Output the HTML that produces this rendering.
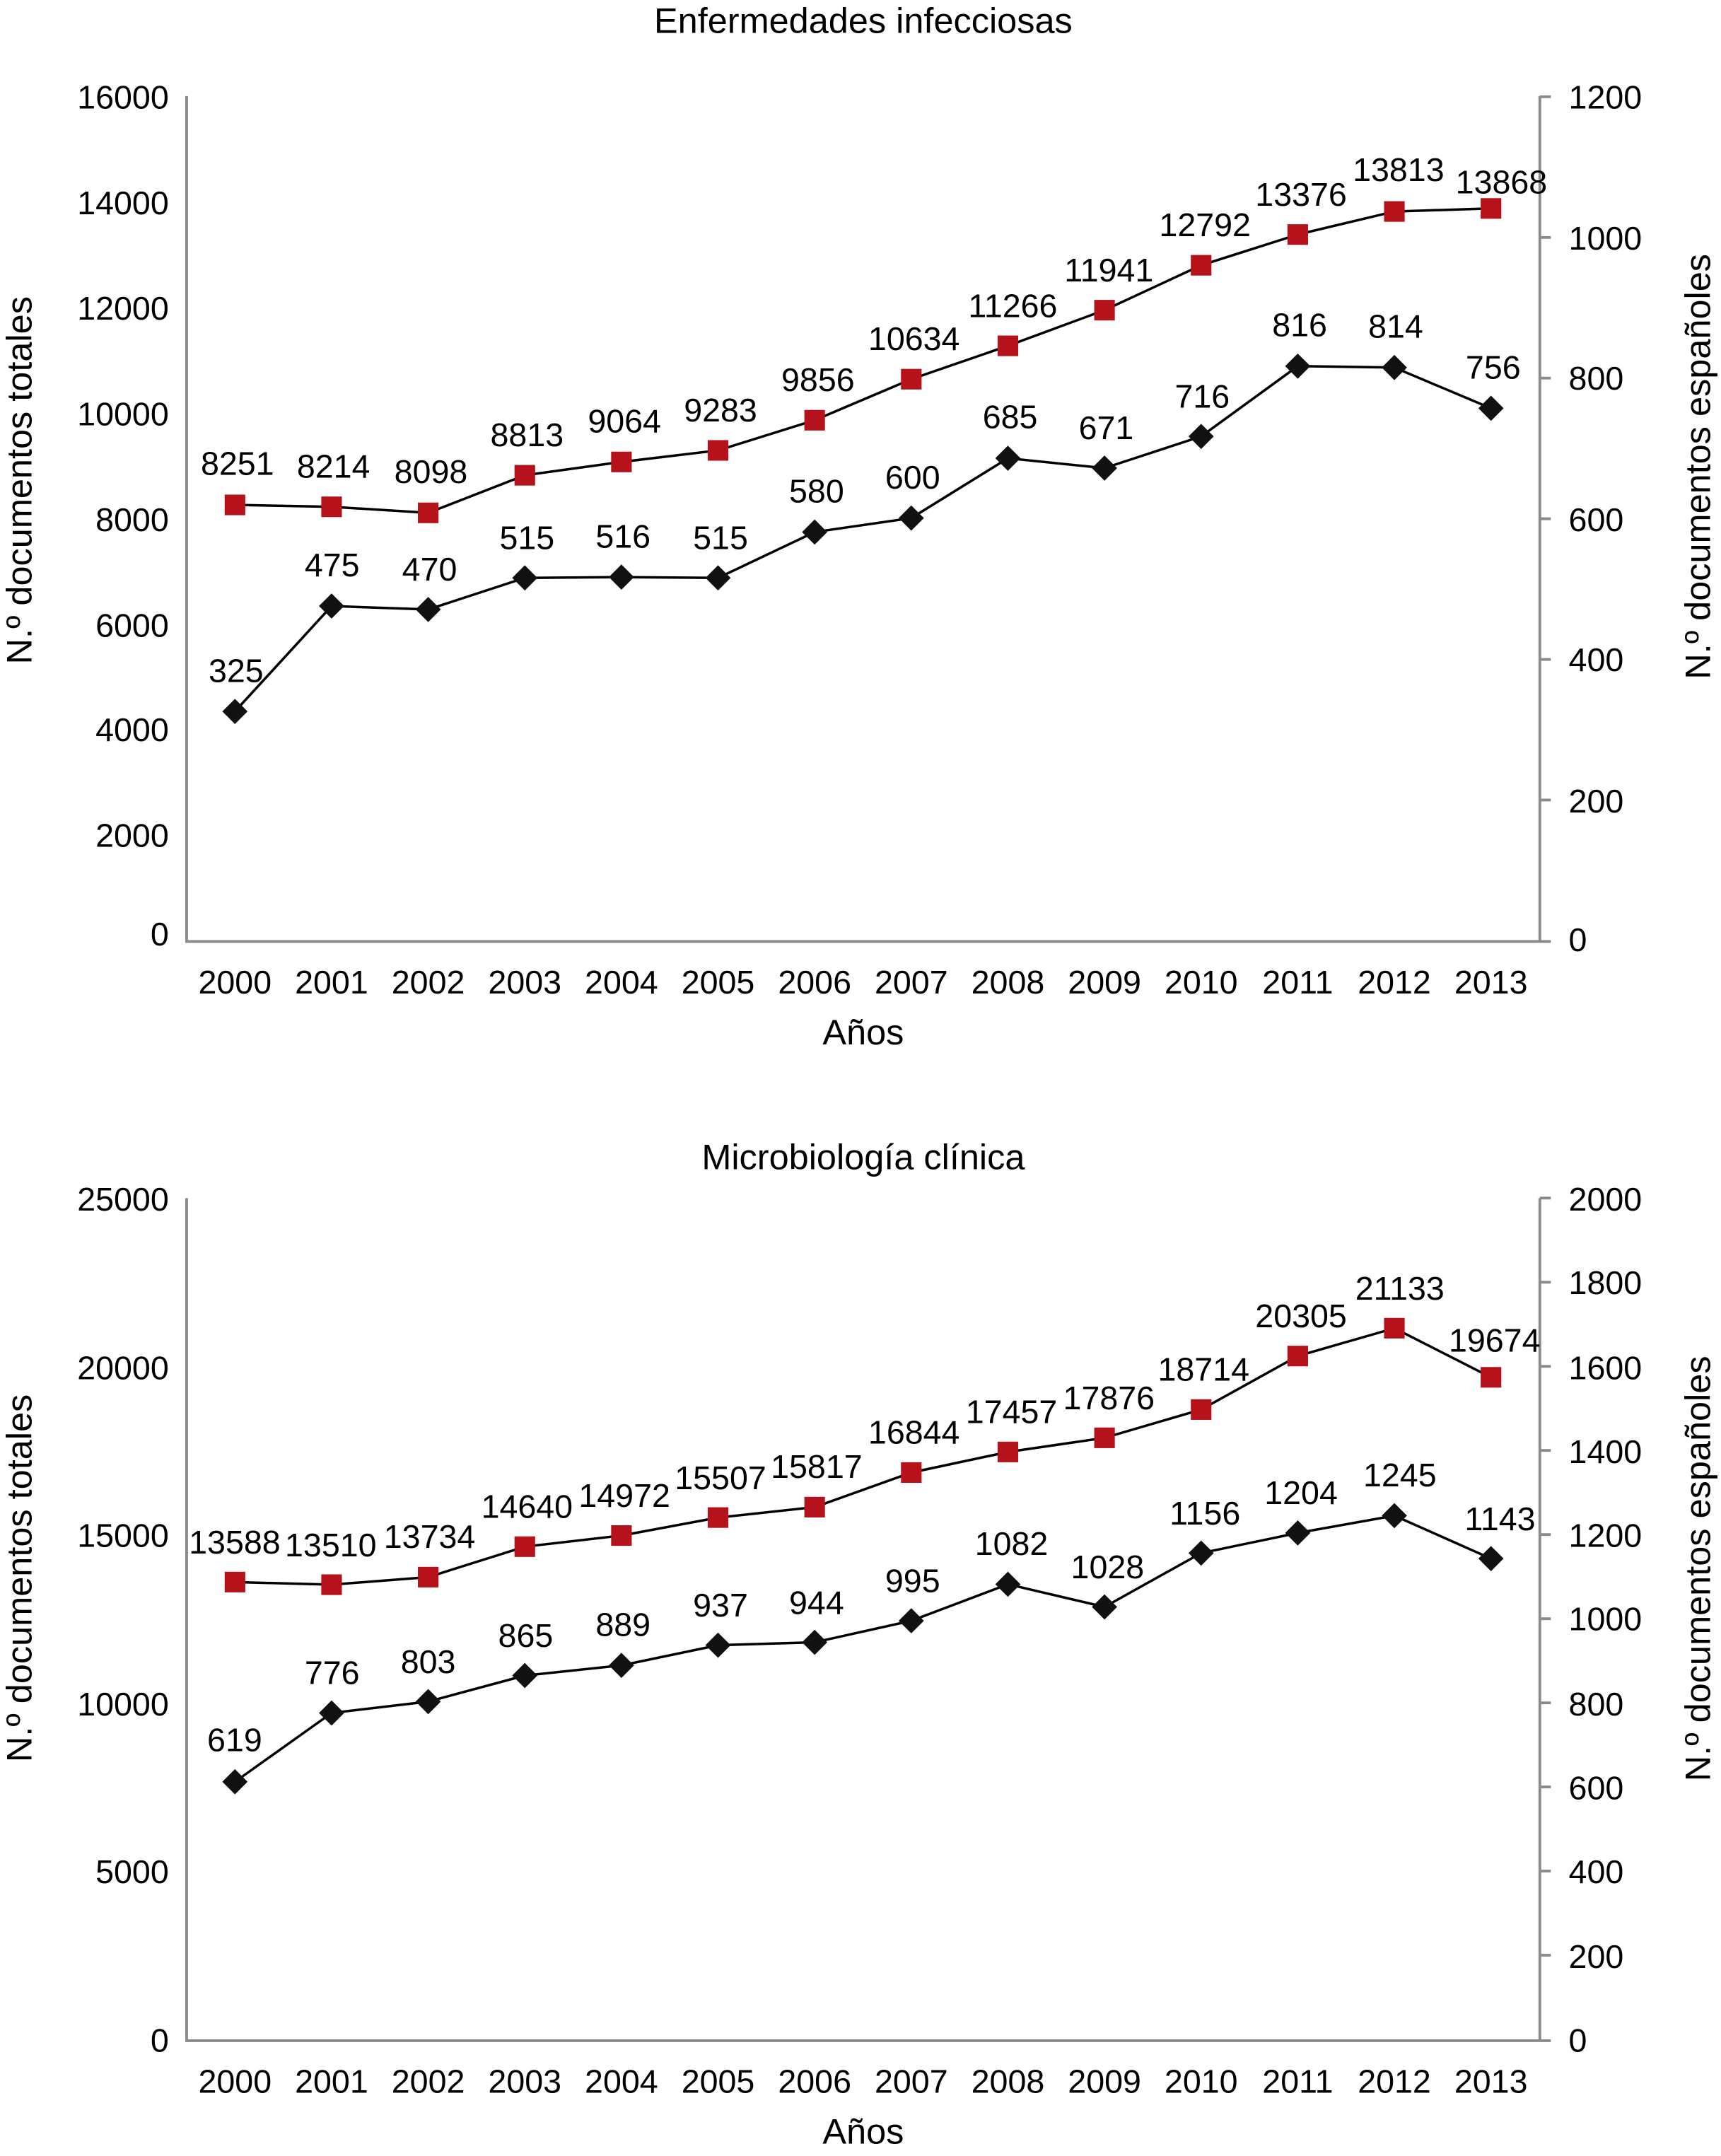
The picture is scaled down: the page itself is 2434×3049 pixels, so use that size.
<!DOCTYPE html>
<html><head><meta charset="utf-8"><style>
html,body{margin:0;padding:0;background:#fff}
svg{display:block}
text{font-family:"Liberation Sans",Arial,sans-serif;fill:#000}
</style></head><body>
<svg width="2434" height="3049" viewBox="0 0 1254 1571" preserveAspectRatio="none" xmlns="http://www.w3.org/2000/svg">
<defs>
<rect id="sq" x="-7.5" y="-7.5" width="15" height="15" fill="#b5121b"/>
<rect id="dm" x="-6.5" y="-6.5" width="13" height="13" fill="#111" transform="rotate(45)"/>
</defs>
<g font-size="24">
<!-- ===== TOP CHART ===== -->
<text x="629" y="24" text-anchor="middle" font-size="26">Enfermedades infecciosas</text>
<g stroke="#8a8a8a" stroke-width="2" fill="none">
<path d="M136 70 V686 H1130"/>
<path d="M1122 70 V686"/>
<path d="M1122 70.5h8M1122 173h8M1122 275.5h8M1122 378h8M1122 480.5h8M1122 583h8"/>
</g>
<g text-anchor="end">
<text x="123" y="79">16000</text><text x="123" y="156">14000</text><text x="123" y="233">12000</text><text x="123" y="310">10000</text><text x="123" y="387">8000</text><text x="123" y="464">6000</text><text x="123" y="540">4000</text><text x="123" y="617">2000</text><text x="123" y="689">0</text>
</g>
<g>
<text x="1143" y="79">1200</text><text x="1143" y="182">1000</text><text x="1143" y="284">800</text><text x="1143" y="387">600</text><text x="1143" y="489">400</text><text x="1143" y="592">200</text><text x="1143" y="693">0</text>
</g>
<g text-anchor="middle">
<text x="171.2" y="724">2000</text><text x="241.6" y="724">2001</text><text x="312" y="724">2002</text><text x="382.4" y="724">2003</text><text x="452.8" y="724">2004</text><text x="523.2" y="724">2005</text><text x="593.6" y="724">2006</text><text x="664" y="724">2007</text><text x="734.4" y="724">2008</text><text x="804.8" y="724">2009</text><text x="875.2" y="724">2010</text><text x="945.6" y="724">2011</text><text x="1016" y="724">2012</text><text x="1086.4" y="724">2013</text>
<text x="629" y="761" font-size="26">Años</text>
</g>
<text transform="translate(23,350) rotate(-90)" text-anchor="middle" font-size="26">N.º documentos totales</text>
<text transform="translate(1246,340) rotate(-90)" text-anchor="middle" font-size="26">N.º documentos españoles</text>
<polyline fill="none" stroke="#000" stroke-width="1.8" points="171.2,367.9 241.6,369.3 312,373.7 382.4,346.3 452.8,336.6 523.2,328.2 593.6,306.2 664,276.3 734.4,252 804.8,226 875.2,193.3 945.6,170.9 1016,154.1 1086.4,151.9"/>
<polyline fill="none" stroke="#000" stroke-width="1.8" points="171.2,518.4 241.6,441.6 312,444.1 382.4,421.1 452.8,420.5 523.2,421.1 593.6,387.7 664,377.5 734.4,333.9 804.8,341.1 875.2,318 945.6,266.8 1016,267.8 1086.4,297.5"/>
<g>
<use href="#sq" x="171.2" y="367.9"/><use href="#sq" x="241.6" y="369.3"/><use href="#sq" x="312" y="373.7"/><use href="#sq" x="382.4" y="346.3"/><use href="#sq" x="452.8" y="336.6"/><use href="#sq" x="523.2" y="328.2"/><use href="#sq" x="593.6" y="306.2"/><use href="#sq" x="664" y="276.3"/><use href="#sq" x="734.4" y="252"/><use href="#sq" x="804.8" y="226"/><use href="#sq" x="875.2" y="193.3"/><use href="#sq" x="945.6" y="170.9"/><use href="#sq" x="1016" y="154.1"/><use href="#sq" x="1086.4" y="151.9"/>
<g transform="translate(171.2,518.4)"><use href="#dm"/></g><g transform="translate(241.6,441.6)"><use href="#dm"/></g><g transform="translate(312,444.1)"><use href="#dm"/></g><g transform="translate(382.4,421.1)"><use href="#dm"/></g><g transform="translate(452.8,420.5)"><use href="#dm"/></g><g transform="translate(523.2,421.1)"><use href="#dm"/></g><g transform="translate(593.6,387.7)"><use href="#dm"/></g><g transform="translate(664,377.5)"><use href="#dm"/></g><g transform="translate(734.4,333.9)"><use href="#dm"/></g><g transform="translate(804.8,341.1)"><use href="#dm"/></g><g transform="translate(875.2,318)"><use href="#dm"/></g><g transform="translate(945.6,266.8)"><use href="#dm"/></g><g transform="translate(1016,267.8)"><use href="#dm"/></g><g transform="translate(1086.4,297.5)"><use href="#dm"/></g>
</g>
<g text-anchor="middle">
<text x="173" y="346">8251</text><text x="243" y="348">8214</text><text x="314" y="352">8098</text><text x="384" y="325">8813</text><text x="455" y="315">9064</text><text x="525" y="307">9283</text><text x="596" y="285">9856</text><text x="666" y="255">10634</text><text x="738" y="231">11266</text><text x="808" y="205">11941</text><text x="878" y="172">12792</text><text x="948" y="150">13376</text><text x="1019" y="132">13813</text><text x="1094" y="141">13868</text>
<text x="172" y="497">325</text><text x="242" y="420">475</text><text x="313" y="423">470</text><text x="384" y="400">515</text><text x="454" y="399">516</text><text x="525" y="400">515</text><text x="595" y="366">580</text><text x="665" y="356">600</text><text x="736" y="312">685</text><text x="806" y="320">671</text><text x="876" y="297">716</text><text x="947" y="245">816</text><text x="1017" y="246">814</text><text x="1088" y="276">756</text>
</g>

<!-- ===== BOTTOM CHART ===== -->
<text x="629" y="852" text-anchor="middle" font-size="26">Microbiología clínica</text>
<g stroke="#8a8a8a" stroke-width="2" fill="none">
<path d="M136 873 V1487 H1130"/>
<path d="M1122 873 V1487"/>
<path d="M1122 873h8M1122 934.3h8M1122 995.6h8M1122 1056.9h8M1122 1118.2h8M1122 1179.5h8M1122 1240.8h8M1122 1302.1h8M1122 1363.4h8M1122 1424.7h8"/>
</g>
<g text-anchor="end">
<text x="123" y="882">25000</text><text x="123" y="1005">20000</text><text x="123" y="1127">15000</text><text x="123" y="1250">10000</text><text x="123" y="1372">5000</text><text x="123" y="1495">0</text>
</g>
<g>
<text x="1143" y="882">2000</text><text x="1143" y="943">1800</text><text x="1143" y="1005">1600</text><text x="1143" y="1066">1400</text><text x="1143" y="1127">1200</text><text x="1143" y="1188">1000</text><text x="1143" y="1250">800</text><text x="1143" y="1311">600</text><text x="1143" y="1372">400</text><text x="1143" y="1434">200</text><text x="1143" y="1495">0</text>
</g>
<g text-anchor="middle">
<text x="171.2" y="1525">2000</text><text x="241.6" y="1525">2001</text><text x="312" y="1525">2002</text><text x="382.4" y="1525">2003</text><text x="452.8" y="1525">2004</text><text x="523.2" y="1525">2005</text><text x="593.6" y="1525">2006</text><text x="664" y="1525">2007</text><text x="734.4" y="1525">2008</text><text x="804.8" y="1525">2009</text><text x="875.2" y="1525">2010</text><text x="945.6" y="1525">2011</text><text x="1016" y="1525">2012</text><text x="1086.4" y="1525">2013</text>
<text x="629" y="1562" font-size="26">Años</text>
</g>
<text transform="translate(23,1150) rotate(-90)" text-anchor="middle" font-size="26">N.º documentos totales</text>
<text transform="translate(1246,1143) rotate(-90)" text-anchor="middle" font-size="26">N.º documentos españoles</text>
<polyline fill="none" stroke="#000" stroke-width="1.8" points="171.2,1152.8 241.6,1154.7 312,1149.2 382.4,1127 452.8,1118.9 523.2,1105.8 593.6,1098.2 664,1073 734.4,1058 804.8,1047.7 875.2,1027.1 945.6,988.1 1016,967.8 1086.4,1003.6"/>
<polyline fill="none" stroke="#000" stroke-width="1.8" points="171.2,1298.3 241.6,1248.2 312,1239.9 382.4,1220.9 452.8,1213.5 523.2,1198.8 593.6,1196.7 664,1181 734.4,1154.4 804.8,1170.9 875.2,1131.7 945.6,1117 1016,1104.4 1086.4,1135.7"/>
<g>
<use href="#sq" x="171.2" y="1152.8"/><use href="#sq" x="241.6" y="1154.7"/><use href="#sq" x="312" y="1149.2"/><use href="#sq" x="382.4" y="1127"/><use href="#sq" x="452.8" y="1118.9"/><use href="#sq" x="523.2" y="1105.8"/><use href="#sq" x="593.6" y="1098.2"/><use href="#sq" x="664" y="1073"/><use href="#sq" x="734.4" y="1058"/><use href="#sq" x="804.8" y="1047.7"/><use href="#sq" x="875.2" y="1027.1"/><use href="#sq" x="945.6" y="988.1"/><use href="#sq" x="1016" y="967.8"/><use href="#sq" x="1086.4" y="1003.6"/>
<g transform="translate(171.2,1298.3)"><use href="#dm"/></g><g transform="translate(241.6,1248.2)"><use href="#dm"/></g><g transform="translate(312,1239.9)"><use href="#dm"/></g><g transform="translate(382.4,1220.9)"><use href="#dm"/></g><g transform="translate(452.8,1213.5)"><use href="#dm"/></g><g transform="translate(523.2,1198.8)"><use href="#dm"/></g><g transform="translate(593.6,1196.7)"><use href="#dm"/></g><g transform="translate(664,1181)"><use href="#dm"/></g><g transform="translate(734.4,1154.4)"><use href="#dm"/></g><g transform="translate(804.8,1170.9)"><use href="#dm"/></g><g transform="translate(875.2,1131.7)"><use href="#dm"/></g><g transform="translate(945.6,1117)"><use href="#dm"/></g><g transform="translate(1016,1104.4)"><use href="#dm"/></g><g transform="translate(1086.4,1135.7)"><use href="#dm"/></g>
</g>
<g text-anchor="middle">
<text x="171" y="1132">13588</text><text x="241" y="1134">13510</text><text x="313" y="1128">13734</text><text x="384" y="1106">14640</text><text x="455" y="1098">14972</text><text x="525" y="1085">15507</text><text x="595" y="1077">15817</text><text x="666" y="1052">16844</text><text x="737" y="1037">17457</text><text x="808" y="1027">17876</text><text x="877" y="1006">18714</text><text x="948" y="967">20305</text><text x="1020" y="947">21133</text><text x="1089" y="985">19674</text>
<text x="171" y="1276">619</text><text x="242" y="1227">776</text><text x="312" y="1219">803</text><text x="383" y="1200">865</text><text x="454" y="1192">889</text><text x="525" y="1178">937</text><text x="595" y="1176">944</text><text x="665" y="1160">995</text><text x="737" y="1133">1082</text><text x="807" y="1150">1028</text><text x="878" y="1111">1156</text><text x="948" y="1096">1204</text><text x="1020" y="1083">1245</text><text x="1093" y="1115">1143</text>
</g>
</g>
</svg>
</body></html>
